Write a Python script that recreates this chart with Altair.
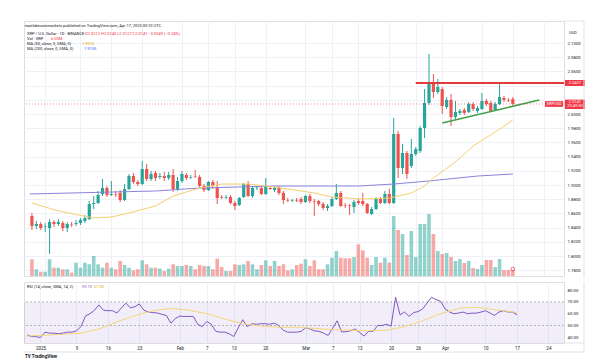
import altair as alt
import pandas as pd

FONT = "Roboto"

# ---- data (daily candles, index 0 = 2024-12-29) ----
opens = [1.8564, 1.8423, 1.8451, 1.8409, 1.8395, 1.8479, 1.8451, 1.8465, 1.8395, 1.8451,
         1.8451, 1.8465, 1.8493, 1.8522, 1.8733, 1.8747, 1.8874, 1.8958, 1.8860, 1.8874,
         1.8888, 1.8789, 1.8944, 1.9127, 1.9043, 1.9014, 1.9226, 1.9085, 1.9169, 1.9113,
         1.9127, 1.9099, 1.9141, 1.8944, 1.9057, 1.9141, 1.9106, 1.9127, 1.9113, 1.8986,
         1.8930, 1.9043, 1.8972, 1.8831, 1.8824, 1.8831, 1.8747, 1.8719, 1.8831, 1.9014,
         1.8845, 1.8958, 1.8958, 1.8874, 1.8958, 1.8930, 1.8958, 1.8888, 1.8789, 1.8782,
         1.8789, 1.8803, 1.8761, 1.8845, 1.8775, 1.8775, 1.8733, 1.8676, 1.8705, 1.8803,
         1.8888, 1.8719, 1.8712, 1.8691, 1.8775, 1.8775, 1.8733, 1.8592, 1.8662, 1.8803,
         1.8747, 1.8874, 1.8747, 1.9719, 1.9240, 1.9451, 1.9268, 1.9437, 1.9479, 1.9803,
         2.0155, 2.0437, 2.0310, 2.0352, 2.0099, 2.0198, 1.9958, 2.0015, 2.0057, 2.0029,
         2.0141, 2.0043, 2.0071, 2.0184, 2.0155, 2.0057, 2.0141, 2.0226, 2.0198, 2.0212]
highs = [1.8606, 1.8493, 1.8479, 1.8465, 1.8522, 1.8507, 1.8522, 1.8493, 1.8479, 1.8479,
         1.8507, 1.8536, 1.8578, 1.8775, 1.8845, 1.8916, 1.9085, 1.8986, 1.9057, 1.8916,
         1.8930, 1.9014, 1.9155, 1.9169, 1.9071, 1.9338, 1.9296, 1.9198, 1.9198, 1.9169,
         1.9184, 1.9184, 1.9226, 1.9113, 1.9198, 1.9169, 1.9141, 1.9212, 1.9141, 1.9014,
         1.9057, 1.9071, 1.9057, 1.8860, 1.8860, 1.8860, 1.8775, 1.8831, 1.9029, 1.9057,
         1.8986, 1.8986, 1.8986, 1.9099, 1.8986, 1.8986, 1.8986, 1.8916, 1.8817, 1.8803,
         1.8817, 1.8831, 1.8860, 1.8874, 1.8803, 1.8789, 1.8761, 1.8733, 1.8831, 1.9014,
         1.8916, 1.8747, 1.8733, 1.8789, 1.8803, 1.8888, 1.8747, 1.8691, 1.8831, 1.8831,
         1.8916, 1.8944, 1.9944, 1.9761, 1.9578, 1.9479, 1.9648, 1.9536, 1.9831, 2.0352,
         2.0846, 2.0564, 2.0493, 2.0381, 2.0240, 2.0282, 2.0184, 2.0071, 2.0085, 2.0169,
         2.0169, 2.0113, 2.0296, 2.0212, 2.0184, 2.0169, 2.0423, 2.0254, 2.0226, 2.0240]
lows = [1.8367, 1.8381, 1.8367, 1.8338, 1.8029, 1.8409, 1.8423, 1.8352, 1.8338, 1.8409,
        1.8423, 1.8437, 1.8465, 1.8507, 1.8662, 1.8733, 1.8845, 1.8831, 1.8845, 1.8831,
        1.8761, 1.8775, 1.8930, 1.9014, 1.8986, 1.9000, 1.9057, 1.9057, 1.9057, 1.9085,
        1.9057, 1.9071, 1.8902, 1.8916, 1.9029, 1.9071, 1.9085, 1.9099, 1.8972, 1.8902,
        1.8916, 1.8944, 1.8733, 1.8803, 1.8803, 1.8733, 1.8648, 1.8705, 1.8817, 1.8831,
        1.8817, 1.8930, 1.8860, 1.8860, 1.8930, 1.8902, 1.8860, 1.8733, 1.8761, 1.8761,
        1.8761, 1.8733, 1.8747, 1.8747, 1.8564, 1.8705, 1.8648, 1.8634, 1.8691, 1.8789,
        1.8691, 1.8676, 1.8578, 1.8606, 1.8719, 1.8705, 1.8592, 1.8578, 1.8648, 1.8733,
        1.8733, 1.8733, 1.8733, 1.9099, 1.9155, 1.9085, 1.9240, 1.9409, 1.9451, 1.9662,
        2.0127, 2.0226, 2.0282, 2.0000, 2.0071, 1.9831, 1.9930, 1.9986, 1.9986, 2.0015,
        2.0043, 2.0015, 2.0057, 2.0113, 2.0029, 2.0043, 2.0127, 2.0169, 2.0169, 2.0127]
closes = [1.8423, 1.8451, 1.8395, 1.8416, 1.8479, 1.8451, 1.8479, 1.8395, 1.8451, 1.8444,
          1.8465, 1.8507, 1.8536, 1.8733, 1.8747, 1.8860, 1.8958, 1.8860, 1.8874, 1.8867,
          1.8789, 1.8944, 1.9127, 1.9043, 1.9014, 1.9226, 1.9085, 1.9155, 1.9099, 1.9127,
          1.9099, 1.9141, 1.8944, 1.9057, 1.9155, 1.9099, 1.9113, 1.9120, 1.8986, 1.8930,
          1.9043, 1.8986, 1.8817, 1.8824, 1.8831, 1.8747, 1.8705, 1.8817, 1.9014, 1.8845,
          1.8958, 1.8965, 1.8874, 1.8986, 1.8944, 1.8958, 1.8888, 1.8789, 1.8782, 1.8789,
          1.8782, 1.8761, 1.8845, 1.8775, 1.8768, 1.8733, 1.8676, 1.8705, 1.8803, 1.8888,
          1.8705, 1.8712, 1.8705, 1.8761, 1.8747, 1.8733, 1.8606, 1.8662, 1.8803, 1.8747,
          1.8874, 1.8747, 1.9719, 1.9240, 1.9451, 1.9155, 1.9437, 1.9507, 1.9803, 2.0155,
          2.0437, 2.0310, 2.0381, 2.0113, 2.0198, 1.9958, 2.0029, 2.0043, 2.0015, 2.0141,
          2.0071, 2.0085, 2.0184, 2.0141, 2.0043, 2.0141, 2.0240, 2.0198, 2.0190, 2.0141]
volumes_m = [16.7, 6.7, 4.3, 4.3, 16.7, 8.3, 8.3, 6.7, 6.7, 3.3,
             13.3, 8.3, 13.3, 11.7, 20, 11.7, 8.3, 13.3, 8.3, 6.7,
             15, 11, 8.3, 5.7, 6.7, 15.7, 11.7, 8.3, 8.3, 7.3,
             5, 7.3, 11.7, 10, 10, 11, 10, 6.7, 11, 10,
             10, 6.7, 17.3, 9, 5, 5, 11.7, 11, 11.7, 15,
             11.7, 6.7, 11, 15.7, 10, 15, 10, 11.7, 5.7, 6.7,
             11, 12.3, 16.7, 10, 15.7, 6.7, 6.7, 11.7, 18.3, 25,
             18.3, 17.7, 17.7, 19, 31.7, 25.7, 18.3, 11, 19, 13.3,
             18.3, 13.3, 60, 46, 42, 21, 45, 19, 52, 52,
             62, 42, 25, 22, 23, 19, 15, 17, 13, 15,
             8, 7, 11, 16, 16, 9, 17, 6, 6, 6]
rsi_values = [42, 40.6, 40.5, 39.7, 44.3, 43.5, 43.5, 43, 43.5, 44.3,
              44.3, 45.5, 49, 58, 60, 63, 67.5, 63, 62.6, 62.6,
              60.6, 65, 69, 65, 66, 68.3, 63, 61.5, 61, 60.6,
              59.5, 58.6, 52, 56, 58, 57.7, 57.7, 57.7, 51, 49,
              53.4, 51, 45, 44.3, 44.3, 43, 40.6, 48, 54.9, 49,
              51.5, 51, 51.5, 51.5, 51, 52, 50, 46, 44.3, 44.3,
              44.3, 45, 48, 47, 45.4, 45, 43.5, 41.5, 47.7, 54,
              44.5, 44.7, 45.5, 47, 44, 41, 45, 45, 50, 50,
              51, 49.5, 74, 59, 61.5, 57.7, 61, 61.8, 64, 69,
              74, 72, 70.6, 64.3, 61.4, 60, 60.6, 61.4, 60, 60.5,
              60.5, 61.4, 62.6, 60.6, 58.6, 61.4, 62.6, 61.5, 61.4, 59.1]

ma50_idx = [0, 6, 14, 18, 22, 28, 32, 38, 43, 49, 55, 64, 68, 75, 81, 86, 89, 91, 96, 100, 105, 109]
ma50_val = [1.8747, 1.8634, 1.8536, 1.8550, 1.8606, 1.8705, 1.8846, 1.8958, 1.9014, 1.9014, 1.8972,
            1.8888, 1.8831, 1.8803, 1.8817, 1.8888, 1.8986, 1.9099, 1.9324, 1.9549, 1.9747, 1.9916]
ma200_idx = [-0.5, 28, 38, 55, 74, 82, 90, 101, 109]
ma200_val = [1.8874, 1.8916, 1.8958, 1.8986, 1.8986, 1.9014, 1.9057, 1.9127, 1.9155]
rsima_idx = [0, 8, 12, 16, 20, 24, 28, 32, 36, 40, 44, 48, 52, 56, 60, 64, 68, 72, 76, 80, 84, 88, 92, 96, 100, 104, 109]
rsima_val = [41, 42.5, 43.5, 47, 53, 58.5, 62.5, 64.5, 63, 60, 55.5, 51.5, 49.5, 48.5, 48.5, 47.5, 46.5,
             46, 45.5, 46, 49, 54, 60, 64.5, 65.5, 63.5, 61]

resist_start, resist_price = 87, 2.0437
trend_idx = [93, 115]
trend_val = [1.9874, 2.0198]

tick_idx = [3, 11, 18, 25, 34, 40, 46, 53, 62, 68, 74, 81, 87, 93, 102, 109, 116]
tick_lab = ["2025", "9", "16", "23", "Feb", "7", "13", "20", "Mar", "7", "13", "20", "26", "Apr", "10", "17", "24"]
price_ticks = [1.78, 1.80, 1.82, 1.84, 1.86, 1.88, 1.90, 1.92, 1.94, 1.96, 1.98, 2.00, 2.02, 2.04, 2.06, 2.08, 2.10]
hidden_price_labels = [2.02, 2.04]
rsi_ticks = [40, 50, 60, 70, 80]

# ---- frames ----
n = len(opens)
df = pd.DataFrame({"i": list(range(n)), "open": opens, "high": highs, "low": lows,
                   "close": closes, "vol": volumes_m, "rsi": rsi_values})
df["dir"] = ["up" if c >= o else "down" for o, c in zip(opens, closes)]
ma50_df = pd.DataFrame({"i": ma50_idx, "v": ma50_val})
ma200_df = pd.DataFrame({"i": ma200_idx, "v": ma200_val})
rsima_df = pd.DataFrame({"i": rsima_idx, "v": rsima_val})
trend_df = pd.DataFrame({"i": trend_idx, "v": trend_val})
res_df = pd.DataFrame({"i": [resist_start], "v": [resist_price]})
last_close = closes[-1]

W, H_MAIN, H_RSI = 540, 255, 61
TEAL, RED = "#26a69a", "#ef5350"
GRID = "#eef1f7"
FRAME = "#e0e3eb"
TXT = "#131722"
FS = 4.3

xscale = alt.Scale(domain=[-0.667, 119.47], nice=False, zero=False)
pscale = alt.Scale(domain=[1.7719, 2.1310], nice=False, zero=False)
rscale = alt.Scale(domain=[35.1, 87.0], nice=False, zero=False)
cscale = alt.Scale(domain=["up", "down"], range=[TEAL, RED])

label_expr = "".join(f"datum.value == {v} ? '{l}' : " for v, l in zip(tick_idx, tick_lab)) + "''"
price_expr = " || ".join(f"abs(datum.value - {v}) < 0.001" for v in hidden_price_labels) + \
    " ? '' : format(datum.value, '.4f')"

grid_axis = alt.Axis(values=tick_idx, labels=False, ticks=False, domain=False, grid=True,
                     gridColor=GRID, title=None, minExtent=0, maxExtent=0, labelPadding=0)
X = alt.X("i:Q", scale=xscale, axis=grid_axis)
price_axis = alt.Axis(orient="right", values=price_ticks, labelExpr=price_expr, grid=True, gridColor=GRID,
                      ticks=False, domain=False, labelFontSize=FS, labelColor=TXT, labelPadding=3,
                      title=None, labelFont=FONT)


def ytxt(field):
    return alt.Y(field, scale=pscale, axis=price_axis)


def label(text, x, y, color=TXT, size=FS, weight="normal", align="left"):
    return alt.Chart(pd.DataFrame({"t": [text]})).mark_text(
        align=align, baseline="middle", fontSize=size, color=color, font=FONT, fontWeight=weight
    ).encode(x=alt.value(x), y=alt.value(y), text="t:N")


def frame_line(x, x2, y, y2):
    return alt.Chart(pd.DataFrame({"k": [0]})).mark_rule(color=FRAME, strokeWidth=1).encode(
        x=alt.value(x), x2=alt.value(x2), y=alt.value(y), y2=alt.value(y2))


vol = alt.Chart(df).mark_bar(size=3.6, opacity=0.5).encode(
    x=X, y=alt.Y("vol:Q", scale=alt.Scale(domain=[0, 255]), axis=None),
    color=alt.Color("dir:N", scale=cscale, legend=None))

wicks = alt.Chart(df).mark_rule(strokeWidth=1).encode(
    x=X, y=ytxt("low:Q"), y2="high:Q", color=alt.Color("dir:N", scale=cscale, legend=None))
bodies = alt.Chart(df).mark_bar(size=3.2).encode(
    x=X, y=ytxt("open:Q"), y2="close:Q", color=alt.Color("dir:N", scale=cscale, legend=None))
ma50 = alt.Chart(ma50_df).mark_line(color="#f5cf6e", strokeWidth=1).encode(x=X, y=ytxt("v:Q"))
ma200 = alt.Chart(ma200_df).mark_line(color="#8a83dc", strokeWidth=1).encode(x=X, y=ytxt("v:Q"))
trend = alt.Chart(trend_df).mark_line(color="#43a047", strokeWidth=1.5).encode(x=X, y=ytxt("v:Q"))
resist = alt.Chart(res_df).mark_rule(color="#e0393e", strokeWidth=2).encode(
    x=X, x2=alt.value(W), y=ytxt("v:Q"))
pline = alt.Chart(pd.DataFrame({"v": [last_close]})).mark_rule(
    color="#f23645", strokeDash=[1, 2], strokeWidth=0.8, opacity=0.7).encode(y=ytxt("v:Q"))

# right-side price tags
box_df = pd.DataFrame({"top": [resist_price + 0.0042, last_close + 0.0062, last_close + 0.0040],
                       "bot": [resist_price - 0.0042, last_close - 0.0070, last_close - 0.0040],
                       "x0": [541, 541, 521], "x1": [561, 561, 539]})
boxes = alt.Chart(box_df).mark_rect(color="#f23645").encode(
    x=alt.X("x0:Q", scale=None), x2="x1:Q", y=ytxt("top:Q"), y2="bot:Q")
tag_df = pd.DataFrame({"v": [resist_price, last_close + 0.0025, last_close - 0.0035, last_close],
                       "t": [f"{resist_price:.4f}", f"{last_close:.4f}", "23:49:50", "XRPUSD"],
                       "x": [551, 551, 551, 530]})
tags = alt.Chart(tag_df).mark_text(color="white", fontSize=4, font=FONT, align="center",
                                   baseline="middle").encode(
    x=alt.X("x:Q", scale=None), y=ytxt("v:Q"), text="t:N")

price_layer = alt.layer(wicks, bodies, ma200, ma50, trend, resist, pline, boxes, tags)

o, h, l, c = opens[-1], highs[-1], lows[-1], closes[-1]
chg = c - closes[-2]
header = [
    label("eastlakecoinmarkets published on TradingView.com, Apr 17, 2025 00:10 UTC", 1, 5, size=4),
    label("XRP / U.S. Dollar · 1D · BINANCE", 3, 13.3, size=4),
    label(f"O{o:.4f} H{h:.4f} L{l:.4f} C{c:.4f} {chg:+.4f} ({chg / closes[-2] * 100:+.2f}%)".replace("-", "−"),
          61, 13.3, color="#f23645", size=4),
    label("Vol · XRP", 3, 17.8, size=4),
    label(f"{volumes_m[-1]:.2f}M", 27, 17.8, color="#f23645", size=4),
    label("MA (50, close, 0, SMA, 0)", 3, 23.2, size=4),
    label(f"{ma50_val[-1]:.4f}", 58, 23.2, color="#e0a800", size=4),
    label("MA (200, close, 0, SMA, 0)", 3, 28.3, size=4),
    label(f"{ma200_val[-1]:.4f}", 60, 28.3, color="#2962ff", size=4),
    label("USD", 545, 12, size=4),
]
flag = alt.Chart(pd.DataFrame({"i": [n - 1]})).mark_point(
    shape="circle", size=14, color="#f23645", strokeWidth=1, filled=False).encode(
    x=X, y=alt.value(H_MAIN - 7))
main_frame = [frame_line(W, W + 20, 0, 0), frame_line(W + 20, W + 20, 0, H_MAIN + 2)]

main = alt.layer(vol, price_layer, flag, *header, *main_frame).resolve_scale(y="independent").properties(
    width=W, height=H_MAIN)

# ---- RSI pane ----
rsi_axis = alt.Axis(orient="right", values=rsi_ticks, format=".2f", grid=False, ticks=False,
                    domain=False, labelFontSize=FS, labelColor=TXT, labelPadding=3, title=None,
                    labelFont=FONT)
x_axis = alt.Axis(values=tick_idx, labelExpr=label_expr, ticks=False, domain=False, grid=True,
                  gridColor=GRID, labelFontSize=FS + 0.2, labelColor=TXT, labelPadding=2,
                  title=None, labelFont=FONT, labelOverlap=False, labelFlush=False)
XR = alt.X("i:Q", scale=xscale, axis=x_axis)

band_df = pd.DataFrame({"hi": [70], "lo": [30]})
band = alt.Chart(band_df).mark_rect(color="#7e57c2", opacity=0.1, clip=True).encode(
    x=alt.value(0), x2=alt.value(W),
    y=alt.Y("hi:Q", scale=rscale, axis=rsi_axis), y2="lo:Q")
lvl_df = pd.DataFrame({"v": [70, 50]})
levels = alt.Chart(lvl_df).mark_rule(color="#9598a1", strokeDash=[2, 2], strokeWidth=0.7).encode(
    y=alt.Y("v:Q", scale=rscale, axis=rsi_axis))
rsi_line = alt.Chart(df).mark_line(color="#7e57c2", strokeWidth=1).encode(
    x=XR, y=alt.Y("rsi:Q", scale=rscale, axis=rsi_axis))
rsi_ma = alt.Chart(rsima_df).mark_line(color="#f3d77a", strokeWidth=1).encode(
    x=XR, y=alt.Y("v:Q", scale=rscale, axis=rsi_axis))
rsi_hdr = [
    label("RSI (14, close, SMA, 14, 2)", 3, 4.5, size=4),
    label(f"{rsi_values[-1]:.2f}", 58, 4.5, color="#7e57c2", size=4),
    label(f"{rsima_val[-1]:.2f}", 70, 4.5, color="#e0b400", size=4),
    label("TV TradingView", 1, 75, size=4.5, weight="bold"),
]
rsi_frame = [frame_line(W + 20, W + 20, 0, H_RSI + 9), frame_line(0, W + 20, H_RSI + 9, H_RSI + 9),
             frame_line(W, W + 20, H_RSI, H_RSI)]
rsi = alt.layer(band, levels, rsi_line, rsi_ma, *rsi_hdr, *rsi_frame).properties(width=W, height=H_RSI)

chart = alt.vconcat(main, rsi, spacing=2).properties(
    padding={"left": 15, "top": 12, "right": 2, "bottom": 2}
).configure_view(stroke=FRAME).configure(background="white", font=FONT)

chart.save("out.html", embed_options={"renderer": "svg", "actions": False})
